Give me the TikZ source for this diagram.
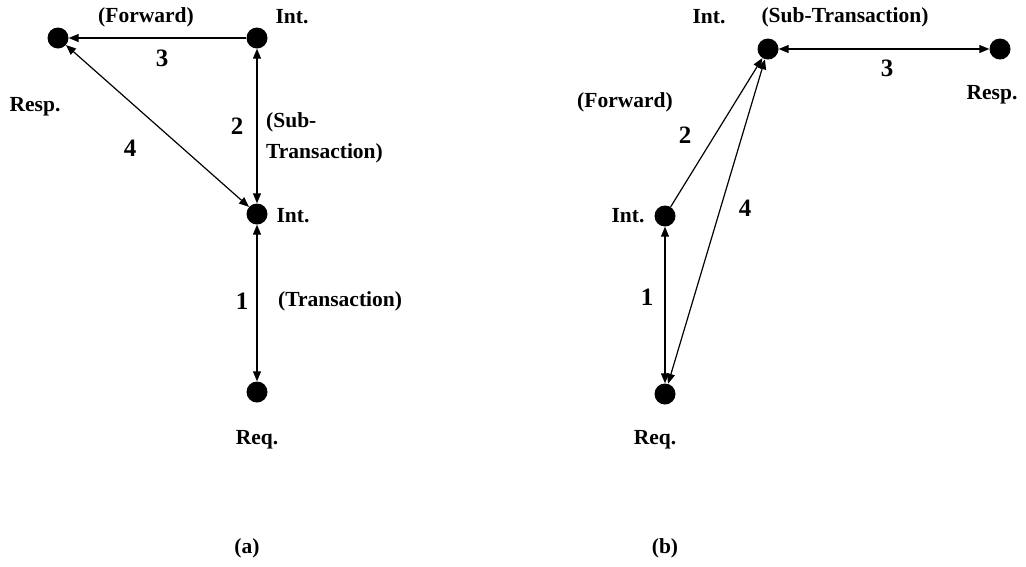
\documentclass[tikz,border=0pt]{standalone}
\usepackage{fontspec}
\setmainfont{Liberation Serif}
\usetikzlibrary{arrows.meta}

\tikzset{
  station/.style={circle,fill,inner sep=0pt,minimum size=21pt},
  lbl/.style={font=\fontsize{21.5}{31}\selectfont\bfseries,inner sep=0pt},
  num/.style={font=\fontsize{25}{28}\selectfont\bfseries,inner sep=0pt},
  link/.style={line width=1.2pt}
}

\begin{document}
\begin{tikzpicture}[x=1pt,y=-1pt,>={Triangle[length=10pt,width=8pt]}]
    \useasboundingbox (0,0) rectangle (1026,566);

    % (a)
    \draw (58,38)   node[station] (aresp) {} ;
    \draw (257,38)  node[station] (aint1) {} ;
    \draw (257,214) node[station] (aint2) {} ;
    \draw (257,392) node[station] (areq) {} ;

    \draw (35,107)  node[lbl] (arespl) {Resp.} ;
    \draw (292,17)  node[lbl] (aint1l) {Int.} ;
    \draw (293,216) node[lbl] (aint2l) {Int.} ;
    \draw (257,440) node[lbl] (areql) {Req.} ;

    \draw (146,17)  node[lbl] (afwd) {(Forward)} ;
    \draw (266,138) node[lbl,anchor=west,align=left] (asub) {(Sub-\\Transaction)} ;
    \draw (278,301) node[lbl,anchor=west] (atrans) {(Transaction)} ;

    \draw (162,58)  node[num] (an3) {3} ;
    \draw (237,126) node[num] (an2) {2} ;
    \draw (130,148) node[num] (an4) {4} ;
    \draw (242,301) node[num] (an1) {1} ;

    \draw[link,->]  (aint1) -- (aresp);
    \draw[link,<->] (aint1) -- (aint2);
    \draw[link,<->] (aresp) -- (aint2);
    \draw[link,<->] (aint2) -- (areq);

    \draw (247,548) node[lbl] (acap) {(a)} ;

    % (b)
    \draw (768,49)  node[station] (bint1) {} ;
    \draw (1000,49) node[station] (bresp) {} ;
    \draw (665,216) node[station] (bint2) {} ;
    \draw (665,394) node[station] (breq) {} ;

    \draw (709,17)  node[lbl] (bint1l) {Int.} ;
    \draw (992,95)  node[lbl] (brespl) {Resp.} ;
    \draw (628,216) node[lbl] (bint2l) {Int.} ;
    \draw (655,440) node[lbl] (breql) {Req.} ;

    \draw (845,17)  node[lbl] (bsub) {(Sub-Transaction)} ;
    \draw (625,102) node[lbl] (bfwd) {(Forward)} ;

    \draw (887,68)  node[num] (bn3) {3} ;
    \draw (685,135) node[num] (bn2) {2} ;
    \draw (745,208) node[num] (bn4) {4} ;
    \draw (647,297) node[num] (bn1) {1} ;

    \draw[link,->]  (bint2) -- (bint1);
    \draw[link,<->] (bint1) -- (bresp);
    \draw[link,<->] (breq) -- (bint1);
    \draw[link,<->] (bint2) -- (breq);

    \draw (665,548) node[lbl] (bcap) {(b)} ;
\end{tikzpicture}
\end{document}
